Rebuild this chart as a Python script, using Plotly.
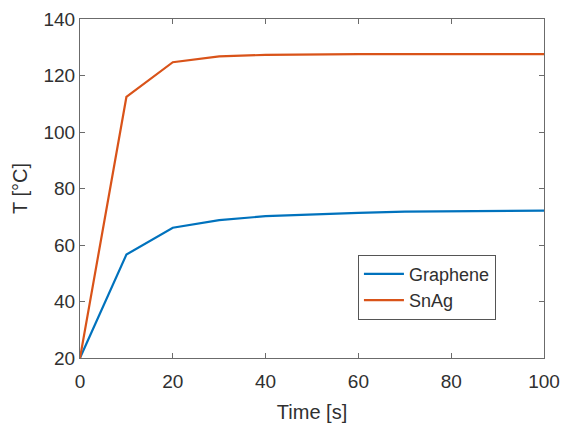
import plotly.graph_objects as go

time_s = [0, 10, 20, 30, 40, 50, 60, 70, 80, 90, 100]
graphene_T = [20, 56.6, 66.1, 68.8, 70.2, 70.9, 71.4, 71.8, 72.0, 72.1, 72.2]
snag_T = [20, 112.4, 124.7, 126.8, 127.3, 127.5, 127.6, 127.6, 127.6, 127.6, 127.6]

fig = go.Figure()
fig.add_trace(go.Scatter(x=time_s, y=graphene_T, mode="lines", name="Graphene",
                         line=dict(color="#0072BD", width=2.2)))
fig.add_trace(go.Scatter(x=time_s, y=snag_T, mode="lines", name="SnAg",
                         line=dict(color="#D95319", width=2.2)))

axis_common = dict(showgrid=False, zeroline=False, showline=True, linecolor="#6b6b6b",
                   linewidth=1.2, mirror="ticks", ticks="inside", ticklen=5,
                   tickcolor="#6b6b6b", tickfont=dict(size=19, color="#303030"),
                   automargin=False)
fig.update_layout(
    width=562, height=423,
    margin=dict(l=80, r=18, t=19, b=65),
    paper_bgcolor="white", plot_bgcolor="white",
    font=dict(family="Liberation Sans, Arial, sans-serif", color="#303030"),
    xaxis=dict(range=[0, 100], dtick=20, ticklabelstandoff=6,
               title=dict(text="Time [s]", font=dict(size=20), standoff=19),
               **axis_common),
    yaxis=dict(range=[20, 140], dtick=20,
               title=dict(text="T [°C]", font=dict(size=20), standoff=10),
               **axis_common),
    legend=dict(x=0.599, y=0.305, xanchor="left", yanchor="top",
                bgcolor="white", bordercolor="#555555", borderwidth=1,
                font=dict(size=18, color="#303030"), tracegroupgap=0, itemwidth=40),
    showlegend=True,
)
fig.write_html("out.html", config={"displayModeBar": False},
               post_script="document.body.style.margin='0';")
